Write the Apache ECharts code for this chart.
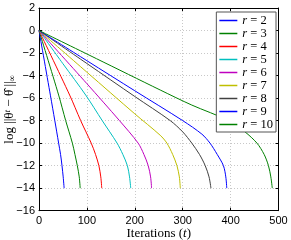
<!DOCTYPE html>
<html><head><meta charset="utf-8">
<script src="https://cdn.jsdelivr.net/npm/echarts@6/dist/echarts.min.js"></script>
<style>html,body{margin:0;padding:0;background:#fff}#c{width:291px;height:240px}</style>
</head><body><div id="c"></div>
<script>
const seriesNames = ['r = 2','r = 3','r = 4','r = 5','r = 6','r = 7','r = 8','r = 9','r = 10'];
const iters_r2  = [0, 24, 33, 41, 45, 48, 50.5, 52.5];
const logErr_r2 = [0, -5.8, -8, -10, -11, -12, -13, -14];
const iters_r3  = [0, 41, 55.7, 69.7, 75, 80, 84, 86];
const logErr_r3 = [0, -5.73, -8, -10, -11, -12, -13, -14];
const iters_r4  = [0, 64, 87, 109, 118, 125, 129, 131];
const logErr_r4 = [0, -5.73, -8, -10, -11, -12, -13, -14];
const iters_r5  = [0, 50, 97.5, 132, 163, 175, 184.5, 189, 191.5];
const logErr_r5 = [0, -2.95, -5.73, -8, -10, -11, -12, -13, -14];
const iters_r6  = [0, 100, 168, 207, 219, 228, 233, 235];
const logErr_r6 = [0, -4.72, -8, -10, -11, -12, -13, -14];
const iters_r7  = [0, 100, 200, 253, 267, 279, 288, 293, 295];
const logErr_r7 = [0, -3.7, -7.4, -9.3, -10, -11, -12, -13, -14];
const iters_r8  = [0, 100, 200, 274, 300, 319, 335, 347, 355, 359];
const logErr_r8 = [0, -2.93, -5.86, -8, -9.0, -10, -11, -12, -13, -14];
const iters_r9  = [0, 100, 200, 300, 340, 357, 372, 385, 390, 392];
const logErr_r9 = [0, -2.68, -5.35, -8.0, -9.2, -10, -11, -12, -13, -14];
const iters_r10  = [0, 120, 253, 319, 396, 430, 455, 470, 479, 484, 487];
const logErr_r10 = [0, -2.5, -5.28, -6.62, -8.0, -9.0, -10, -11, -12, -13, -14];
const xTicks = [0, 100, 200, 300, 400, 500];
const yTicks = [-16, -14, -12, -10, -8, -6, -4, -2, 0, 2];

const allIters = [iters_r2, iters_r3, iters_r4, iters_r5, iters_r6, iters_r7, iters_r8, iters_r9, iters_r10];
const allVals = [logErr_r2, logErr_r3, logErr_r4, logErr_r5, logErr_r6, logErr_r7, logErr_r8, logErr_r9, logErr_r10];
const colors = ['#0000ff','#008000','#ff0000','#00bfbf','#bf00bf','#bfbf00','#404040','#0000ff','#008000'];

const serif = '"Liberation Serif", "DejaVu Serif", serif';
const sans = '"Liberation Sans", Arial, sans-serif';

const chart = echarts.init(document.getElementById('c'), null, {renderer:'canvas'});
const gridLine = {show:true, lineStyle:{color:'#c8c8c8', type:[1,2], width:1}};
const axisLabel = {color:'#000', fontFamily:sans, fontSize:11};
chart.setOption({
  animation:false,
  color: colors,
  grid:{left:39, right:12.5, top:8, bottom:29.3, containLabel:false, outerBoundsMode:'none'},
  xAxis:[{
    type:'value', min:xTicks[0], max:xTicks[xTicks.length-1], interval:100,
    axisLine:{onZero:false, lineStyle:{color:'#000', width:1}},
    axisTick:{inside:true, length:3, lineStyle:{color:'#000'}},
    axisLabel:Object.assign({margin:5}, axisLabel),
    splitLine:gridLine,
    name:'{n|Iterations (}{i|t}{n|)}', nameLocation:'middle', nameGap:16, nameMoveOverlap:false,
    nameTextStyle:{rich:{n:{fontFamily:serif, fontSize:13, lineHeight:14, color:'#000'}, i:{fontFamily:serif, fontStyle:'italic', fontSize:13, lineHeight:14, color:'#000'}}}
  },{
    type:'value', position:'top', min:0, max:500, interval:100,
    axisLine:{onZero:false, lineStyle:{color:'#000'}},
    axisTick:{inside:true, length:3, lineStyle:{color:'#000'}},
    axisLabel:{show:false}, splitLine:{show:false}
  }],
  yAxis:[{
    type:'value', min:yTicks[0], max:yTicks[yTicks.length-1], interval:2,
    axisLine:{onZero:false, show:true, lineStyle:{color:'#000', width:1}},
    axisTick:{show:true, inside:true, length:3, lineStyle:{color:'#000'}},
    axisLabel:Object.assign({margin:4, formatter:v=>String(v).replace('-','\u2212')}, axisLabel),
    splitLine:gridLine,
    name:'{n|log ||θ}{s|t}{n| − θ̂ ||}{b|∞}', nameLocation:'middle', nameGap:22, nameMoveOverlap:false,
    nameTextStyle:{rich:{
      n:{fontFamily:serif, fontSize:13, lineHeight:14, color:'#000'},
      s:{fontFamily:serif, fontStyle:'italic', fontSize:9, lineHeight:14, color:'#000', verticalAlign:'top'},
      b:{fontFamily:serif, fontSize:9, lineHeight:14, color:'#000', verticalAlign:'bottom'}
    }}
  },{
    type:'value', position:'right', min:-16, max:2, interval:2,
    axisLine:{onZero:false, show:true, lineStyle:{color:'#000'}},
    axisTick:{show:true, inside:true, length:3, lineStyle:{color:'#000'}},
    axisLabel:{show:false}, splitLine:{show:false}
  }],
  legend:{
    orient:'vertical', right:15, top:12,
    backgroundColor:'#fff', borderColor:'#555', borderWidth:1,
    padding:[2,3,1,3], itemGap:0, itemWidth:18, itemHeight:1.5, icon:'rect',
    data: seriesNames,
    formatter: name => '{i|r}{n|' + name.slice(1) + '}',
    textStyle:{rich:{
      i:{fontFamily:serif, fontStyle:'italic', fontSize:12.5, lineHeight:10.8, color:'#000'},
      n:{fontFamily:serif, fontSize:12.5, lineHeight:10.8, color:'#000'}
    }}
  },
  series: seriesNames.map((name, k) => ({
    name, type:'line', symbol:'none', showSymbol:false, smooth:0.3,
    lineStyle:{width:1, color:colors[k]}, itemStyle:{color:colors[k]},
    data: allIters[k].map((t, j) => [t, allVals[k][j]])
  }))
});
</script></body></html>
